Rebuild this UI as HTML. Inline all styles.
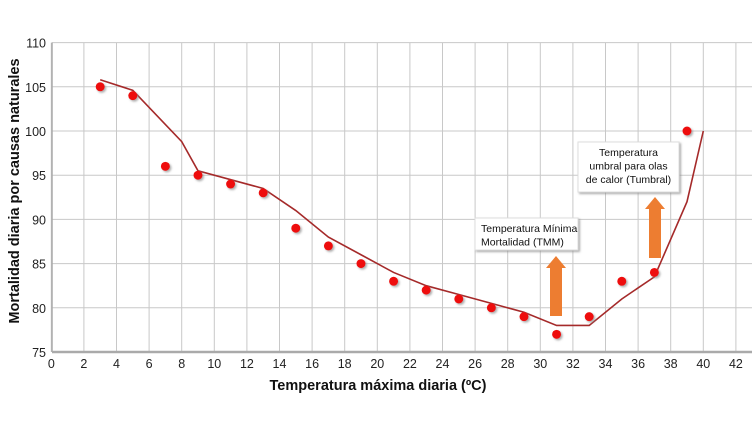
<!DOCTYPE html>
<html><head><meta charset="utf-8"><style>
html,body{margin:0;padding:0;background:#fff;}
svg{display:block;font-family:"Liberation Sans",sans-serif;}
</style></head><body>
<svg id="c" width="754" height="424"></svg>
<script>
const xTicks=[0,2,4,6,8,10,12,14,16,18,20,22,24,26,28,30,32,34,36,38,40,42];
const yTicks=[75,80,85,90,95,100,105,110];
const pointX=[3,5,7,9,11,13,15,17,19,21,23,25,27,29,31,33,35,37,39];
const pointY=[105,104,96,95,94,93,89,87,85,83,82,81,80,79,77,79,83,84,100];
const lineX=[3,5,8,9,13,15,17,19,21,23,25,27,29,31,33,35,37,39,40];
const lineY=[105.8,104.6,98.8,95.5,93.5,91,88,86,84,82.5,81.5,80.5,79.5,78,78,81,83.5,92,100];
const NS='http://www.w3.org/2000/svg';
const svg=document.getElementById('c');
const X=v=>51.3+v*16.3;
const Y=v=>352-(v-75)*8.84;
function mk(t,a,p){const e=document.createElementNS(NS,t);for(const k in a)e.setAttribute(k,a[k]);(p||svg).appendChild(e);return e;}
const defs=mk('defs',{});
const f=mk('filter',{id:'sh',x:'-50%',y:'-50%',width:'200%',height:'200%'},defs);
mk('feDropShadow',{dx:'1.5',dy:'1.5',stdDeviation:'1',"flood-color":'#888',"flood-opacity":'0.7'},f);
const grid=mk('g',{});


xTicks.forEach(t=>{mk('line',{x1:X(t),x2:X(t),y1:Y(110),y2:Y(75),stroke:'#c8c8c8','stroke-width':1},grid);});
yTicks.forEach(t=>{mk('line',{x1:52,x2:752,y1:Y(t),y2:Y(t),stroke:'#c8c8c8','stroke-width':1},grid);});
mk('line',{x1:52,x2:52,y1:Y(110),y2:Y(75),stroke:'#aaa','stroke-width':1.5});
mk('line',{x1:52,x2:752,y1:Y(75),y2:Y(75),stroke:'#aaa','stroke-width':2.5});
xTicks.forEach(t=>{const e=mk('text',{x:X(t),y:368,'font-size':12.5,'text-anchor':'middle',fill:'#222'});e.textContent=t;
});
yTicks.forEach(t=>{const e=mk('text',{x:46,y:Y(t)+5,'font-size':12.5,'text-anchor':'end',fill:'#222'});e.textContent=t;
});
const xt=mk('text',{x:378,y:390,'font-size':14.5,'font-weight':'bold','text-anchor':'middle',fill:'#111'});
xt.textContent='Temperatura máxima diaria (ºC)';

const yt=mk('text',{x:0,y:0,'font-size':14.5,'font-weight':'bold','text-anchor':'middle',fill:'#111',transform:'translate(19,191) rotate(-90)'});
yt.textContent='Mortalidad diaria por causas naturales';

const pl=mk('polyline',{points:lineX.map((v,i)=>X(v)+','+Y(lineY[i])).join(' '),fill:'none',stroke:'#a52a2a','stroke-width':1.6});

pointX.forEach((v,i)=>{const c=mk('circle',{cx:X(v),cy:Y(pointY[i]),r:4.5,fill:'#ee1111',filter:'url(#sh)'});
});
function arrow(cx,top,bot,name){const hw=10,sw=6,hh=12;
const p=mk('polygon',{points:[[cx,top],[cx+hw,top+hh],[cx+sw,top+hh],[cx+sw,bot],[cx-sw,bot],[cx-sw,top+hh],[cx-hw,top+hh]].map(a=>a.join(',')).join(' '),fill:'#ed7d31'});
}
arrow(556,256,316,'tmm-arrow');
arrow(655,197,258,'tumbral-arrow');
function box(x,y,w,h,lines,anchor,name){const g=mk('g',{});

mk('rect',{x:x,y:y,width:w,height:h,fill:'#fff',stroke:'#ddd',filter:'url(#sh)'},g);
lines.forEach((l,i)=>{const t=mk('text',{x:anchor==='middle'?x+w/2:x+6,y:y+14+i*13.5,'font-size':10.5,'text-anchor':anchor,fill:'#111'},g);t.textContent=l;});}
box(578,142,101,50,['Temperatura','umbral para olas','de calor (Tumbral)'],'middle','tumbral-annotation');
box(475,218,103,32,['Temperatura Mínima','Mortalidad (TMM)'],'start','tmm-annotation');
</script>
</body></html>
